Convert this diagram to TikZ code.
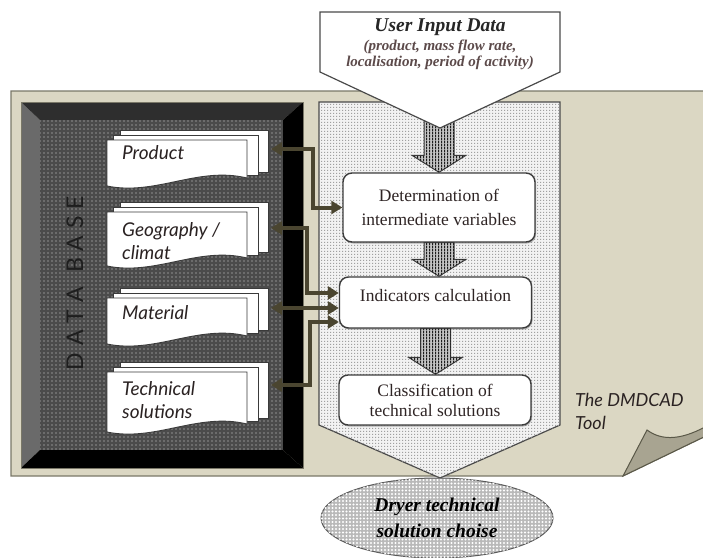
\documentclass[tikz,border=0pt]{standalone}
\usepackage{fontspec}
\setmainfont{Liberation Serif}
\newfontfamily\hand{Lato}
\usetikzlibrary{shapes.geometric,arrows.meta,patterns,calc,shadows}

\pgfdeclarepatternformonly{sdots}{\pgfqpoint{-1pt}{-1pt}}{\pgfqpoint{1pt}{1pt}}{\pgfqpoint{4pt}{4pt}}{\pgfpathcircle{\pgfpointorigin}{0.9pt}\pgfusepath{fill}}
\pgfdeclarepatternformonly{wdots}{\pgfqpoint{-1.2pt}{-1.2pt}}{\pgfqpoint{1.2pt}{1.2pt}}{\pgfqpoint{3.5pt}{3.5pt}}{\pgfpathcircle{\pgfpointorigin}{1.1pt}\pgfusepath{fill}}
\pgfdeclarepatternformonly{fchk}{\pgfpointorigin}{\pgfqpoint{3pt}{3pt}}{\pgfqpoint{3pt}{3pt}}{\pgfpathrectangle{\pgfpointorigin}{\pgfqpoint{1.5pt}{1.5pt}}\pgfusepath{fill}}
\pgfdeclarepatternformonly{vstripes}{\pgfpointorigin}{\pgfqpoint{3pt}{3pt}}{\pgfqpoint{3pt}{3pt}}{\pgfpathrectangle{\pgfpointorigin}{\pgfqpoint{1.4pt}{3pt}}\pgfusepath{fill}}

\definecolor{beige}{HTML}{DBD7C3}
\definecolor{pageline}{HTML}{7A7868}
\definecolor{flap}{HTML}{A8A491}
\definecolor{flapline}{HTML}{5A5848}
\definecolor{bevl}{HTML}{6A6A6A}
\definecolor{bevt}{HTML}{2E2E2E}
\definecolor{dbfill}{HTML}{4B4B4B}
\definecolor{dbdot}{HTML}{8E8E8E}
\definecolor{chevfill}{HTML}{F2F2F2}
\definecolor{chevdot}{HTML}{A0A0A0}
\definecolor{chevline}{HTML}{4A4A4A}
\definecolor{ellfill}{HTML}{B9B9B9}
\definecolor{ellline}{HTML}{5A5A5A}
\definecolor{hatchbase}{HTML}{C4C4C4}
\definecolor{hatchline}{HTML}{1E1E1E}
\definecolor{boxline}{HTML}{3C3C3C}
\definecolor{boxtext}{HTML}{2E2424}
\definecolor{cardline}{HTML}{3A3A3A}
\definecolor{cardtxt}{HTML}{2A2222}
\definecolor{olivec}{HTML}{4A4530}
\definecolor{uidline}{HTML}{4A4A4A}
\definecolor{subc}{HTML}{5C4A4A}
\definecolor{dbtext}{HTML}{1E1E1E}

\tikzset{
  boxst/.style={draw=boxline, line width=1.4pt, fill=white, rounded corners=9pt,
    minimum width=192pt, inner sep=0pt, font=\fontsize{17.5}{24}\selectfont,
    text=boxtext, align=center,
    drop shadow={shadow xshift=1pt, shadow yshift=-1.5pt, fill=black!55}},
  cardst/.style={fill=white, draw=cardline, line width=0.9pt},
  cardtext/.style={font=\hand\itshape\fontsize{19}{23}\selectfont, text=cardtxt,
    align=left, anchor=west, inner sep=0pt},
  conn/.style={draw=olivec, line width=4pt,
    {Triangle[length=11pt,width=13pt]}-{Triangle[length=11pt,width=13pt]}},
  hatch/.style={fill=hatchbase, postaction={pattern=vstripes, pattern color=hatchline},
    draw=boxline, line width=1pt},
}

\newcommand{\cardstack}[4]{%
  \filldraw[cardst] (#1+13,#2-10) rectangle (#1+#3+21,#2+#4-16);
  \filldraw[cardst] (#1+6,#2-5) rectangle (#1+#3+11,#2+#4-13);
  \filldraw[cardst] (#1,#2) -- (#1+#3,#2) -- (#1+#3,#2+#4-10)
    .. controls (#1+0.65*#3,#2+#4-22) and (#1+0.35*#3,#2+#4+8) .. (#1,#2+#4-2) -- cycle;
}
\newcommand{\fatarrow}[2]{%
  \path[hatch] ($(#1)+(-15,0)$) -- ($(#1)+(15,0)$) -- ($(#2)+(15,-17)$)
    -- ($(#2)+(27,-17)$) -- (#2) -- ($(#2)+(-27,-17)$) -- ($(#2)+(-15,-17)$) -- cycle;
}

\begin{document}
\begin{tikzpicture}[x=1pt,y=-1pt]
\useasboundingbox (0,0) rectangle (703,557);

% page
\filldraw[fill=beige, draw=pageline, line width=1.2pt]
  (11,91) -- (712,91) -- (712,433) -- (623,476) -- (11,476) -- cycle;
\filldraw[fill=flap, draw=flapline, line width=1pt]
  (623,476) -- (647,430) .. controls (662,441) and (682,441) .. (712,423) -- (712,433) -- cycle;

% data base frame
\fill[bevl] (21,102) -- (40,120) -- (40,450) -- (21,468) -- cycle;
\fill[bevt] (21,102) -- (303,102) -- (283,120) -- (40,120) -- cycle;
\fill[black] (303,102) -- (303,468) -- (283,450) -- (283,120) -- cycle;
\fill[black] (21,468) -- (303,468) -- (283,450) -- (40,450) -- cycle;
\path[fill=dbfill, postaction={pattern=sdots, pattern color=dbdot}] (40,120) rectangle (283,450);
\draw[pageline, line width=0.6pt] (21,102) rectangle (303,468);

\node[rotate=90, font=\hand\fontsize{23}{23}\selectfont, text=dbtext, inner sep=0pt] (dbl) at (75,283)
  {D\hspace{7pt}A\hspace{7pt}T\hspace{7pt}A\hspace{14pt}B\hspace{7pt}A\hspace{7pt}S\hspace{7pt}E};

% chevron
\path[fill=chevfill, postaction={pattern=fchk, pattern color=chevdot}, draw=chevline, line width=1.2pt]
  (319,102) -- (560,102) -- (560,425) -- (440,478) -- (319,425) -- cycle;

% output ellipse
\node[ellipse, minimum width=232pt, minimum height=80pt, inner sep=0pt, fill=ellfill,
  postaction={pattern=wdots, pattern color=white}, draw=ellline, line width=1pt,
  font=\bfseries\itshape\fontsize{19.5}{26}\selectfont, align=center] (outp) at (437,518)
  {Dryer technical\\solution choise};

% card stacks
\cardstack{107}{140}{140}{48}
\cardstack{107}{212}{140}{56}
\cardstack{107}{298}{140}{48}
\cardstack{107}{372}{140}{62}
\node[cardtext] (prod) at (122,153) {Product};
\node[cardtext] (geo) at (122,241.5) {Geography /\\climat};
\node[cardtext] (mat) at (122,313) {Material};
\node[cardtext] (tech) at (122,400.5) {Technical\\solutions};

\coordinate (pR) at (271,149);
\coordinate (gR) at (271,228);
\coordinate (mR) at (271,308);
\coordinate (tR) at (271,385);

% process boxes
\node[boxst, minimum height=69pt] (det) at (439,207.5) {Determination of\\intermediate variables};
\node[boxst, minimum height=51pt, text height=12pt, text depth=15pt] (ind) at (435.5,302.5) {Indicators calculation};
\node[boxst, minimum height=50pt, font=\fontsize{17.5}{20}\selectfont] (cls) at (435,400) {Classification of\\technical solutions};

% hatched arrows
\coordinate (a1s) at (439,106);
\coordinate (a2e) at (det.south |- ind.north);
\coordinate (a3e) at (ind.south |- cls.north);
\fatarrow{a1s}{det.north}
\fatarrow{det.south}{a2e}
\fatarrow{ind.south}{a3e}

% connectors
\draw[conn] (pR) -- ++(42,0) |- (det.west);
\draw[conn] (gR) -- ++(36,0) |- ([yshift=9.5pt]ind.west);
\draw[conn] (mR) -- (mR -| ind.west);
\draw[conn] (tR) -- ++(39,0) |- ([yshift=-19.5pt]ind.west);

% user input
\filldraw[fill=white, draw=uidline, line width=1.2pt]
  (320,12) -- (560,12) -- (560,72) -- (440,128) -- (320,72) -- cycle;
\node[font=\bfseries\itshape\fontsize{19.5}{20}\selectfont, text=black!85] (uidt) at (440,27) {User Input Data};
\node[font=\bfseries\itshape\fontsize{15}{16}\selectfont, text=subc, align=center] (uids) at (440,55)
  {(product, mass flow rate,\\localisation, period of activity)};

% tool label
\node[font=\hand\itshape\fontsize{18}{23}\selectfont, text=cardtxt, align=left, anchor=west, inner sep=0pt] (tool) at (575,411.5)
  {The DMDCAD\\Tool};
\end{tikzpicture}
\end{document}
